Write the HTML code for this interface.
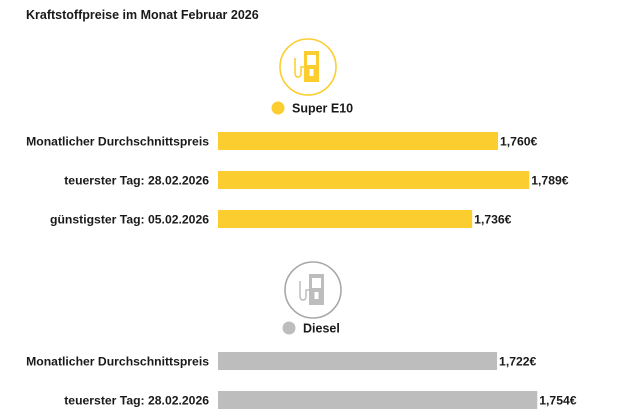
<!DOCTYPE html>
<html><head><meta charset="utf-8"><style>
body{margin:0;background:#fff;width:630px;height:412px;overflow:hidden;font-family:"Liberation Sans",sans-serif}
svg text{font-family:"Liberation Sans",sans-serif;font-weight:bold;fill:#1a1a1a}
</style></head><body>
<svg id="chart" width="630" height="412">
<text x="26" y="19" font-size="12.5">Kraftstoffpreise im Monat Februar 2026</text>
</svg>
<script>
const categories = ["Monatlicher Durchschnittspreis","teuerster Tag: 28.02.2026","günstigster Tag: 05.02.2026"];
const e10Values = [1.760, 1.789, 1.736];
const dieselValues = [1.722, 1.754];
const e10Labels = ["1,760€","1,789€","1,736€"];
const dieselLabels = ["1,722€","1,754€"];
const NS="http://www.w3.org/2000/svg";
const svg=document.getElementById('chart');
function el(t,a){const e=document.createElementNS(NS,t);for(const k in a)e.setAttribute(k,a[k]);svg.appendChild(e);return e;}
function panel(name,vals,labels,color,stroke,cx,cy,dotX,legY,barY0,k){
  const x=v=>218+(v-1.5)*k;
  const c=el('circle',{cx:cx,cy:cy,r:28,fill:'none',stroke:stroke,'stroke-width':1.6});
  
  
  const g=el('g',{fill:color});
  
  
  const r1=document.createElementNS(NS,'path');
  r1.setAttribute('d',`M${cx-4} ${cy-16}h15v31h-15z M${cx-1} ${cy-2}h9v-10h-9z M${cx+1.5} ${cy+2}h4v7h-4z`);
  r1.setAttribute('fill-rule','evenodd');g.appendChild(r1);
  const p=document.createElementNS(NS,'path');
  p.setAttribute('d',`M${cx-13} ${cy-9}v15q0 4 3 4q3 0 3-4v-6h3`);
  p.setAttribute('fill','none');p.setAttribute('stroke',color);p.setAttribute('stroke-width','1.5');g.appendChild(p);
  const d=el('circle',{cx:dotX,cy:legY,r:6.5,fill:color});
  
  
  const lt=el('text',{x:dotX+14,y:legY+4.5,'font-size':12.5});
  lt.textContent=name==='e10'?'Super E10':'Diesel';
  
  
  vals.forEach((v,i)=>{
    const y=barY0+i*39;
    const t=el('text',{x:209,y:y+13.5,'font-size':12.2,'text-anchor':'end'});
    t.textContent=categories[i];
    
    
    const b=el('rect',{x:218,y:y,width:x(v)-218,height:18,fill:color});
    
    
    const vt=el('text',{x:x(v)+2,y:y+13.5,'font-size':12.2});
    vt.textContent=labels[i];
    
    
  });
}
panel('e10',e10Values,e10Labels,'#fccd2f','#fccd2f',308,67,278,108,132,1077);
panel('diesel',dieselValues,dieselLabels,'#bdbdbd','#a8a8a8',313,290,289,328,352,1257);
</script>
</body></html>
